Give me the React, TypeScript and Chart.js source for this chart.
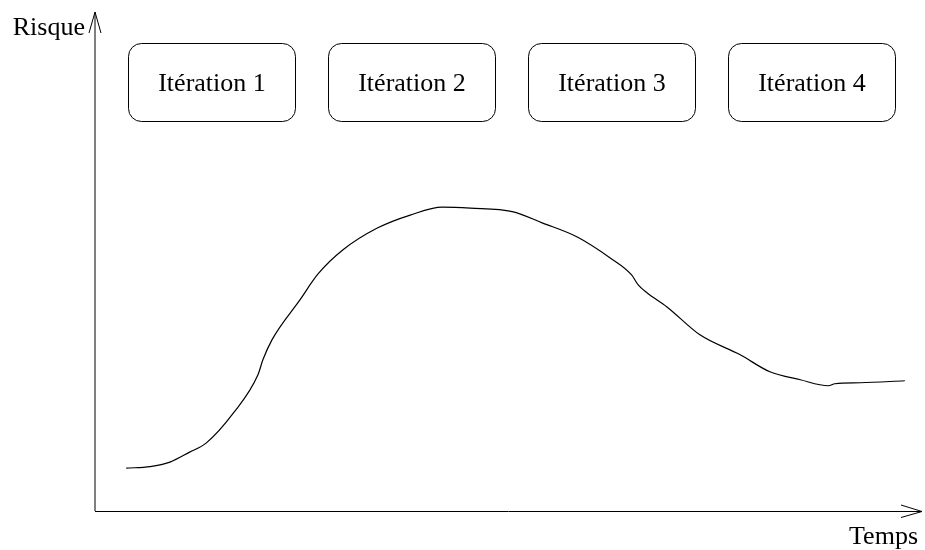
import { useEffect, useRef } from "react";
import { Chart, registerables } from "chart.js";

Chart.register(...registerables);

// Data (Temps on x, Risque on y, both in arbitrary 0–100 units)
const temps = [3.8, 6.7, 9.1, 11.5, 13.5, 16.8, 19.8, 20.4, 21.5, 24.9, 27.1, 30.1, 34.3, 38.3, 42.2, 45.6, 50.7, 54.4, 58.6, 62.6, 65.2, 66.0, 67.1, 69.5, 73.5, 78.4, 82.0, 85.7, 89.1, 89.9, 93.0, 98.4];
const risque = [8.6, 8.9, 9.8, 11.8, 13.6, 19.6, 27.3, 30.3, 34.3, 42.3, 47.5, 52.3, 56.7, 59.3, 60.9, 60.7, 60.0, 57.7, 54.9, 50.7, 47.3, 45.3, 43.7, 40.9, 35.3, 31.3, 27.9, 26.3, 25.1, 25.5, 25.7, 26.1];
const iterations = ["Itération 1", "Itération 2", "Itération 3", "Itération 4"];
const xAxisLabel = "Temps";
const yAxisLabel = "Risque";

const FONT = '26px "Liberation Serif", "Times New Roman", serif';

function roundRect(ctx: CanvasRenderingContext2D, x: number, y: number, w: number, h: number, r: number) {
  ctx.beginPath();
  ctx.moveTo(x + r, y);
  ctx.lineTo(x + w - r, y);
  ctx.arcTo(x + w, y, x + w, y + r, r);
  ctx.lineTo(x + w, y + h - r);
  ctx.arcTo(x + w, y + h, x + w - r, y + h, r);
  ctx.lineTo(x + r, y + h);
  ctx.arcTo(x, y + h, x, y + h - r, r);
  ctx.lineTo(x, y + r);
  ctx.arcTo(x, y, x + r, y, r);
  ctx.closePath();
}

const decorPlugin = {
  id: "decor",
  beforeDatasetsDraw(chart: any) {
    const { ctx, chartArea: a } = chart;
    ctx.save();
    ctx.strokeStyle = "#000";
    ctx.lineWidth = 1;
    // y axis with open arrow
    ctx.beginPath();
    ctx.moveTo(a.left, a.bottom);
    ctx.lineTo(a.left, a.top);
    ctx.moveTo(a.left - 6, a.top + 21);
    ctx.lineTo(a.left, a.top);
    ctx.lineTo(a.left + 6, a.top + 21);
    ctx.stroke();
    // x axis with open arrow
    const tipX = a.right + 4;
    ctx.beginPath();
    ctx.moveTo(a.left, a.bottom + 0.5);
    ctx.lineTo(tipX, a.bottom + 0.5);
    ctx.moveTo(tipX - 21, a.bottom - 6);
    ctx.lineTo(tipX, a.bottom + 0.5);
    ctx.lineTo(tipX - 21, a.bottom + 6.5);
    ctx.stroke();

    ctx.fillStyle = "#000";
    ctx.font = FONT;
    ctx.textBaseline = "alphabetic";
    ctx.textAlign = "right";
    ctx.fillText(yAxisLabel, a.left - 10, a.top + 23);
    ctx.fillText(xAxisLabel, a.right, a.bottom + 33);

    // iteration boxes
    const boxW = 167;
    const boxH = 78;
    const step = 200;
    const top = a.top + 31.5;
    iterations.forEach((label, i) => {
      const left = a.left + 33.5 + i * step;
      roundRect(ctx, left, top, boxW, boxH, 13);
      ctx.stroke();
      ctx.textAlign = "center";
      ctx.fillText(label, left + boxW / 2, top + 47);
    });
    ctx.restore();
  },
};

export default function App() {
  const ref = useRef<HTMLCanvasElement | null>(null);
  useEffect(() => {
    if (!ref.current) return;
    const chart = new Chart(ref.current, {
      type: "line",
      data: {
        datasets: [
          {
            data: temps.map((t, i) => ({ x: t, y: risque[i] })),
            borderColor: "#000",
            borderWidth: 1.2,
            pointRadius: 0,
            cubicInterpolationMode: "monotone",
            fill: false,
          },
        ],
      },
      options: {
        responsive: false,
        animation: false,
        layout: { padding: { left: 95, right: 7, top: 12, bottom: 39 } },
        plugins: { legend: { display: false }, tooltip: { enabled: false } },
        scales: {
          x: { type: "linear", min: 0, max: 100, display: false },
          y: { min: 0, max: 100, display: false },
        },
      },
      plugins: [decorPlugin],
    });
    return () => chart.destroy();
  }, []);
  return (
    <div style={{ position: "absolute", left: 0, top: 0, width: 925, height: 550, background: "#fff" }}>
      <canvas ref={ref} width={925} height={550} />
    </div>
  );
}
